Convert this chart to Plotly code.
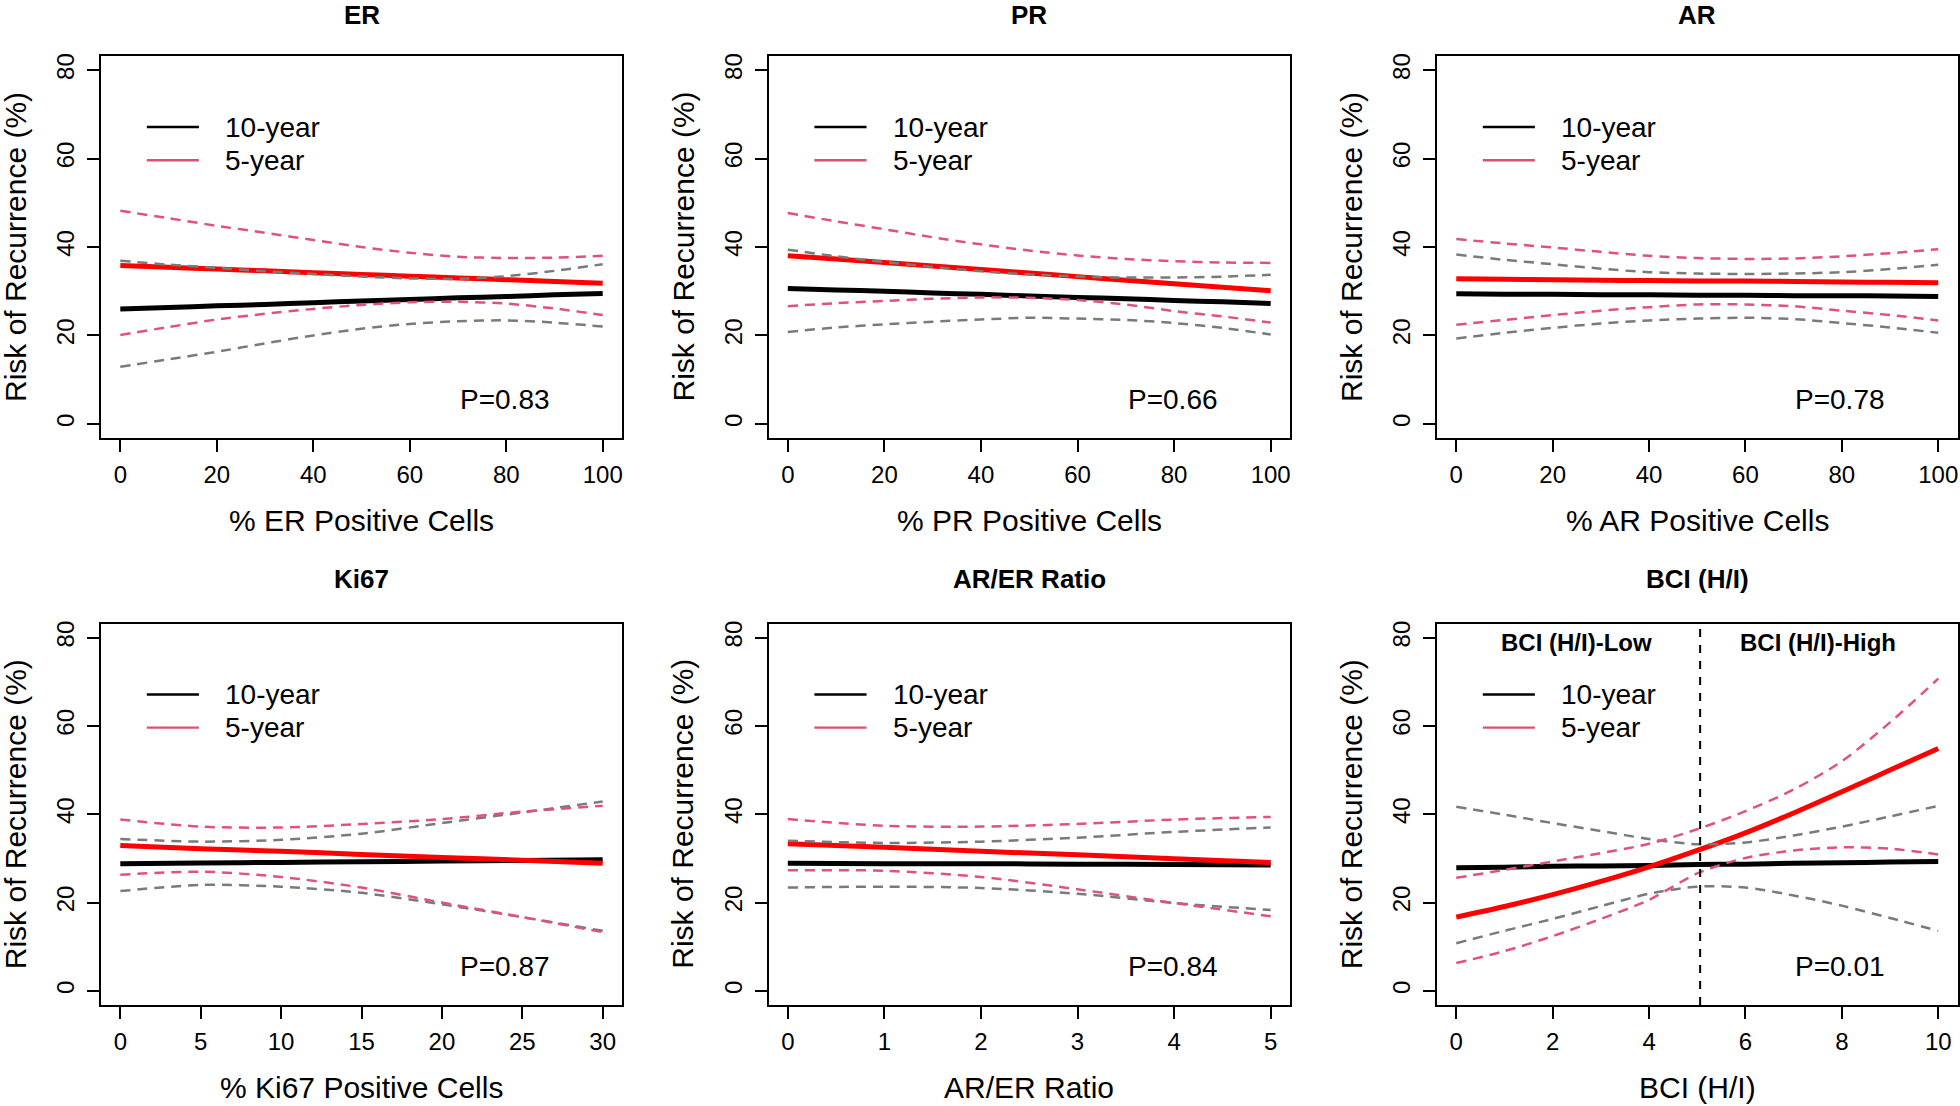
import plotly.graph_objects as go

W, H = 1960, 1106

# ---------------- data ----------------
titles = ["ER", "PR", "AR", "Ki67", "AR/ER Ratio", "BCI (H/I)"]
xtitles = ["% ER Positive Cells", "% PR Positive Cells", "% AR Positive Cells",
           "% Ki67 Positive Cells", "AR/ER Ratio", "BCI (H/I)"]
pvalues = ["P=0.83", "P=0.66", "P=0.78", "P=0.87", "P=0.84", "P=0.01"]
xmax = [100, 100, 100, 30, 5, 10]
xticks = [[0, 20, 40, 60, 80, 100], [0, 20, 40, 60, 80, 100], [0, 20, 40, 60, 80, 100],
          [0, 5, 10, 15, 20, 25, 30], [0, 1, 2, 3, 4, 5], [0, 2, 4, 6, 8, 10]]
yticks = [0, 20, 40, 60, 80]

# ER
er_x = [0, 10, 20, 30, 40, 50, 60, 70, 80, 90, 100]
er_10 = [26.0, 26.3, 26.7, 27.0, 27.4, 27.8, 28.1, 28.5, 28.8, 29.2, 29.5]
er_10_lo = [12.9, 14.6, 16.3, 18.2, 20.0, 21.5, 22.6, 23.2, 23.4, 22.9, 22.0]
er_10_hi = [36.9, 36.0, 35.3, 34.5, 33.9, 33.3, 32.9, 32.8, 33.4, 34.6, 36.1]
er_5 = [35.8, 35.4, 35.0, 34.6, 34.2, 33.8, 33.4, 33.0, 32.6, 32.2, 31.8]
er_5_lo = [20.1, 21.9, 23.6, 24.9, 26.0, 26.9, 27.5, 27.6, 27.2, 26.1, 24.6]
er_5_hi = [48.2, 46.5, 44.8, 43.2, 41.6, 40.0, 38.7, 37.8, 37.5, 37.6, 38.0]

# PR
pr_x = [0, 10, 20, 30, 40, 50, 60, 70, 80, 90, 100]
pr_10 = [30.6, 30.3, 30.0, 29.6, 29.3, 28.9, 28.6, 28.3, 27.9, 27.6, 27.2]
pr_10_lo = [20.8, 21.8, 22.5, 23.1, 23.6, 24.0, 23.8, 23.5, 22.8, 21.7, 20.2]
pr_10_hi = [39.4, 37.9, 36.6, 35.5, 34.5, 33.8, 33.3, 33.1, 33.1, 33.3, 33.7]
pr_5 = [38.0, 37.3, 36.5, 35.7, 34.9, 34.1, 33.3, 32.5, 31.7, 30.9, 30.1]
pr_5_lo = [26.6, 27.3, 27.8, 28.3, 28.6, 28.5, 28.0, 27.0, 25.5, 24.3, 22.9]
pr_5_hi = [47.7, 45.8, 44.0, 42.2, 40.6, 39.2, 38.1, 37.3, 36.8, 36.5, 36.4]

# AR
ar_x = [0, 10, 20, 30, 40, 50, 60, 70, 80, 90, 100]
ar_10 = [29.4, 29.3, 29.3, 29.2, 29.2, 29.1, 29.1, 29.0, 29.0, 28.9, 28.8]
ar_10_lo = [19.3, 20.6, 21.7, 22.7, 23.4, 23.8, 24.0, 23.7, 22.8, 21.8, 20.6]
ar_10_hi = [38.3, 37.1, 36.1, 35.1, 34.3, 34.0, 33.9, 34.0, 34.3, 35.0, 36.0]
ar_5 = [32.8, 32.7, 32.6, 32.5, 32.4, 32.3, 32.3, 32.2, 32.1, 32.0, 31.9]
ar_5_lo = [22.4, 23.5, 24.6, 25.6, 26.4, 27.0, 27.0, 26.6, 25.6, 24.6, 23.4]
ar_5_hi = [41.8, 40.8, 39.9, 38.9, 38.0, 37.5, 37.3, 37.4, 37.9, 38.6, 39.5]

# Ki67
ki_x = [0, 5, 10, 15, 20, 25, 30]
ki_10 = [28.8, 28.95, 29.1, 29.25, 29.4, 29.55, 29.7]
ki_10_lo = [22.6, 24.0, 23.6, 22.2, 19.6, 16.7, 13.6]
ki_10_hi = [34.4, 33.8, 34.2, 35.6, 38.0, 40.4, 42.9]
ki_5 = [32.9, 32.2, 31.6, 30.9, 30.2, 29.6, 28.9]
ki_5_lo = [26.3, 27.0, 25.8, 23.4, 20.0, 16.7, 13.3]
ki_5_hi = [38.8, 37.2, 37.0, 37.8, 38.9, 40.6, 41.9]

# AR/ER ratio
are_x = [0, 1, 2, 3, 4, 5]
are_10 = [28.9, 28.8, 28.8, 28.7, 28.6, 28.5]
are_10_lo = [23.4, 23.6, 23.3, 22.0, 19.9, 18.3]
are_10_hi = [34.0, 33.5, 33.8, 34.7, 36.0, 37.0]
are_5 = [33.3, 32.5, 31.6, 30.8, 29.9, 29.1]
are_5_lo = [27.3, 27.2, 25.8, 23.0, 19.9, 16.9]
are_5_hi = [38.9, 37.4, 37.2, 37.8, 38.8, 39.4]

# BCI (H/I)
bci_x = [0, 1, 2, 3, 4, 5, 6, 7, 8, 9, 10]
bci_10 = [27.9, 28.0, 28.2, 28.3, 28.4, 28.6, 28.7, 28.9, 29.0, 29.2, 29.3]
bci_10_lo = [10.8, 13.6, 16.3, 19.2, 22.0, 23.6, 23.4, 21.6, 19.3, 16.5, 13.6]
bci_10_hi = [41.7, 39.9, 38.0, 36.2, 34.4, 33.2, 33.6, 35.2, 37.2, 39.5, 41.9]
bci_5 = [16.7, 19.1, 21.8, 24.8, 28.1, 31.8, 35.8, 40.3, 45.1, 50.0, 54.9]
bci_5_lo = [6.3, 9.0, 12.4, 16.3, 20.6, 26.6, 30.1, 31.8, 32.5, 32.2, 30.9]
bci_5_hi = [25.6, 27.4, 29.3, 31.2, 33.3, 36.6, 40.7, 45.6, 52.0, 60.8, 70.7]
bci_cutoff = 5.06
bci_groups = ["BCI (H/I)-Low", "BCI (H/I)-High"]
bci_group_x = [2.5, 7.5]
bci_group_y = 79

legend_labels = ["10-year", "5-year"]

panels = [
    (er_x, er_10, er_10_lo, er_10_hi, er_5, er_5_lo, er_5_hi),
    (pr_x, pr_10, pr_10_lo, pr_10_hi, pr_5, pr_5_lo, pr_5_hi),
    (ar_x, ar_10, ar_10_lo, ar_10_hi, ar_5, ar_5_lo, ar_5_hi),
    (ki_x, ki_10, ki_10_lo, ki_10_hi, ki_5, ki_5_lo, ki_5_hi),
    (are_x, are_10, are_10_lo, are_10_hi, are_5, are_5_lo, are_5_hi),
    (bci_x, bci_10, bci_10_lo, bci_10_hi, bci_5, bci_5_lo, bci_5_hi),
]

# ---------------- styling / layout ----------------
FONT = "Arial, Liberation Sans, sans-serif"
BLACK = "#000000"
RED = "#FF0000"
PINK = "#E0527A"
LEG_PINK = "#E0506E"
GREY = "#7A7A7A"
DASH = "10px,7px"

col_px = [(101, 622), (768.5, 1290), (1437, 1957.5)]
row_px = [(56, 438), (623.5, 1005)]
title_top = [-2, 562]


def xd(px):
    return px / W


def yd(py):
    return 1 - py / H


fig = go.Figure()
annotations = []
shapes = []

for i, (xs, m10, lo10, hi10, m5, lo5, hi5) in enumerate(panels):
    r, c = divmod(i, 3)
    n = i + 1
    xa = "x" if n == 1 else f"x{n}"
    ya = "y" if n == 1 else f"y{n}"
    xl, xr = col_px[c]
    yt, yb = row_px[r]

    def add(y, color, width, dash=None):
        fig.add_trace(go.Scatter(
            x=xs, y=y, mode="lines", xaxis=xa, yaxis=ya, showlegend=False,
            line=dict(color=color, width=width, dash=dash, shape="spline", smoothing=0.8),
            hoverinfo="skip"))

    add(m10, BLACK, 5)
    add(m5, RED, 5)
    add(lo10, GREY, 2.5, DASH)
    add(hi10, GREY, 2.5, DASH)
    add(lo5, PINK, 2.5, DASH)
    add(hi5, PINK, 2.5, DASH)

    span = xmax[i]
    fig.layout[f"xaxis{'' if n == 1 else n}"] = dict(
        domain=[xd(xl), xd(xr)], anchor=ya, range=[-0.04 * span, 1.04 * span],
        tickvals=xticks[i], ticks="outside", ticklen=12, tickwidth=2, tickcolor=BLACK,
        showline=True, linecolor=BLACK, linewidth=2, mirror=True, showgrid=False,
        zeroline=False, tickfont=dict(family=FONT, size=24, color=BLACK),
        ticklabelstandoff=2)
    fig.layout[f"yaxis{'' if n == 1 else n}"] = dict(
        domain=[yd(yb), yd(yt)], anchor=xa, range=[-3.2, 83.2],
        tickvals=yticks, ticks="outside", ticklen=12, tickwidth=2, tickcolor=BLACK,
        showline=True, linecolor=BLACK, linewidth=2, mirror=True, showgrid=False,
        zeroline=False, tickangle=-90, tickfont=dict(family=FONT, size=24, color=BLACK),
        ticklabelstandoff=3)

    cx = (xl + xr) / 2
    common = dict(xref="paper", yref="paper", showarrow=False, xanchor="center",
                  yanchor="middle")
    # panel title
    annotations.append(dict(text=f"<b>{titles[i]}</b>", x=xd(cx), y=yd(title_top[r]),
                            xref="paper", yref="paper", showarrow=False, xanchor="center",
                            yanchor="top", font=dict(family=FONT, size=26, color=BLACK)))
    # x-axis title
    annotations.append(dict(text=xtitles[i], x=xd(cx), y=yd(yb + 82),
                            font=dict(family=FONT, size=30, color=BLACK), **common))
    # y-axis title
    annotations.append(dict(text="Risk of Recurrence (%)", x=xd(xl - 86), y=yd((yt + yb) / 2),
                            textangle=-90, font=dict(family=FONT, size=30, color=BLACK),
                            **common))
    # p-value
    annotations.append(dict(text=pvalues[i], x=0.775, y=0.102, xref=f"{xa} domain",
                            yref=f"{ya} domain", showarrow=False, xanchor="center",
                            yanchor="middle",
                            font=dict(family=FONT, size=28, color=BLACK)))
    # legend
    for k, (lab, lc) in enumerate(zip(legend_labels, [BLACK, LEG_PINK])):
        ly = 0.814 - k * 0.087
        shapes.append(dict(type="line", xref=f"{xa} domain", yref=f"{ya} domain",
                           x0=0.088, x1=0.188, y0=ly, y1=ly,
                           line=dict(color=lc, width=2.4)))
        annotations.append(dict(text=lab, x=0.234, y=ly, xref=f"{xa} domain",
                                yref=f"{ya} domain", xanchor="left", yanchor="middle",
                                showarrow=False, font=dict(family=FONT, size=28, color=BLACK)))

# BCI extras
shapes.append(dict(type="line", xref="x6", yref="y6 domain", x0=bci_cutoff, x1=bci_cutoff,
                   y0=0, y1=1, line=dict(color=BLACK, width=2, dash="8px,8px")))
for gx, gl in zip(bci_group_x, bci_groups):
    annotations.append(dict(text=f"<b>{gl}</b>", x=gx, y=bci_group_y, xref="x6", yref="y6",
                            showarrow=False, xanchor="center", yanchor="middle",
                            font=dict(family=FONT, size=24, color=BLACK)))

fig.update_layout(width=W, height=H, margin=dict(l=0, r=0, t=0, b=0, autoexpand=False),
                  paper_bgcolor="white", plot_bgcolor="white",
                  annotations=annotations, shapes=shapes, showlegend=False)

fig.write_html("out.html", config={"displayModeBar": False},
               post_script="document.body.style.margin='0';")
